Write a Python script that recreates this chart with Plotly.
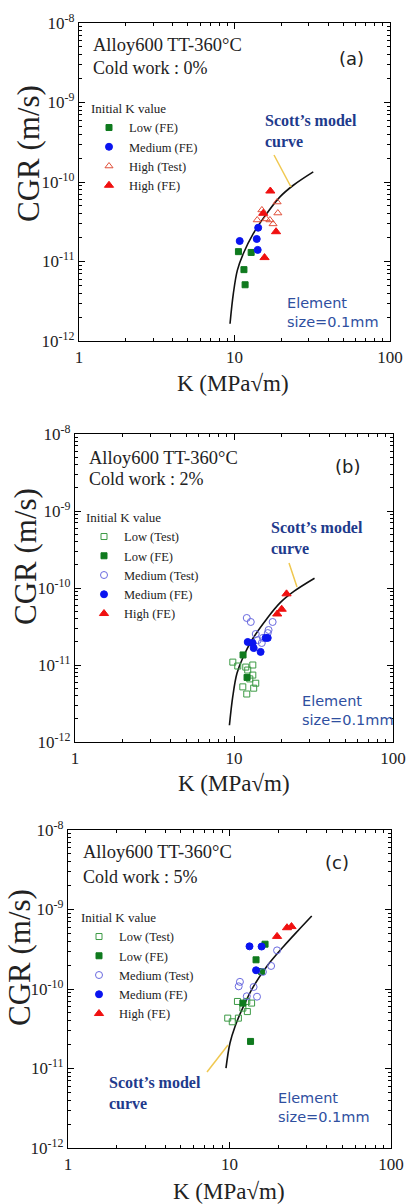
import plotly.graph_objects as go

W, H = 410, 1204

# ---------------- data (K in MPa*sqrt(m), CGR in m/s) ----------------
# Panel (a) cold work 0%
a_low_fe_k = [10.6, 12.8, 11.5, 11.7]
a_low_fe_cgr = [1.33e-11, 1.30e-11, 7.9e-12, 5.1e-12]
a_med_fe_k = [10.8, 14.2, 13.9, 14.1]
a_med_fe_cgr = [1.81e-11, 2.66e-11, 1.92e-11, 1.40e-11]
a_high_test_k = [15.0, 14.0, 18.8, 19.0, 16.9, 17.7, 16.0]
a_high_test_cgr = [4.45e-11, 3.33e-11, 5.6e-11, 4.07e-11, 3.33e-11, 2.97e-11, 3.43e-11]
a_high_fe_k = [17.0, 15.3, 18.5, 15.6]
a_high_fe_cgr = [7.7e-11, 4.04e-11, 2.37e-11, 1.12e-11]

# Panel (b) cold work 2%
b_low_test_k = [9.83, 10.56, 11.86, 13.13, 13.13, 12.2, 11.36, 12.03, 13.3, 13.7, 12.57]
b_low_test_cgr = [1.09e-11, 9.7e-12, 9.4e-12, 1.0e-11, 7.4e-12, 8.6e-12, 5.2e-12, 4.2e-12, 5.0e-12, 5.8e-12, 6.6e-12]
b_low_fe_k = [11.4, 12.08]
b_low_fe_cgr = [1.35e-11, 6.9e-12]
b_med_test_k = [12.03, 12.75, 13.7, 14.95, 16.3, 17.5, 15.2, 16.5, 14.1]
b_med_test_cgr = [4.08e-11, 3.62e-11, 2.53e-11, 1.93e-11, 2.6e-11, 3.62e-11, 2.25e-11, 2.85e-11, 2.1e-11]
b_med_fe_k = [12.2, 13.1, 13.3, 14.7, 16.3, 15.8]
b_med_fe_cgr = [1.99e-11, 1.93e-11, 1.66e-11, 1.48e-11, 2.25e-11, 2.25e-11]
b_high_fe_k = [21.4, 19.95, 18.7]
b_high_fe_cgr = [8.4e-11, 5.3e-11, 4.6e-11]

# Panel (c) cold work 5%
c_low_test_k = [11.2, 12.8, 13.7, 12.1, 12.9, 9.75, 11.35, 10.4]
c_low_test_cgr = [6.97e-11, 6.97e-11, 6.65e-11, 5.75e-11, 5.2e-11, 4.3e-11, 4.3e-11, 3.87e-11]
c_low_fe_k = [16.6, 14.6, 15.8, 12.1, 13.5]
c_low_fe_cgr = [3.66e-10, 2.33e-10, 1.66e-10, 6.65e-11, 2.19e-11]
c_med_test_k = [19.7, 18.1, 16.1, 11.6, 11.4, 14.1, 12.8, 14.8]
c_med_test_cgr = [3.06e-10, 1.95e-10, 1.64e-10, 1.23e-10, 1.08e-10, 1.06e-10, 8.1e-11, 8.0e-11]
c_med_fe_k = [13.3, 15.8, 14.6]
c_med_fe_cgr = [3.44e-10, 3.42e-10, 1.72e-10]
c_high_fe_k = [19.7, 22.7, 24.2]
c_high_fe_cgr = [4.59e-10, 5.9e-10, 6.1e-10]

# Scott's model curves
scott_ab_k = [9.36, 9.83, 10.43, 11.4, 13.2, 16.1, 19.6, 23.9, 32.1]
scott_ab_cgr = [1.65e-12, 3.94e-12, 7.74e-12, 1.26e-11, 2.24e-11, 4.0e-11, 6.5e-11, 9.1e-11, 1.34e-10]
scott_c_k = [9.51, 10.07, 10.82, 12.18, 14.05, 17.0, 21.6, 27.4, 32.3]
scott_c_cgr = [1.01e-11, 2.09e-11, 3.38e-11, 6.0e-11, 1.07e-10, 1.92e-10, 3.42e-10, 5.8e-10, 8.3e-10]

x_tickvals = [1, 10, 100]
x_ticktext = ["1", "10", "100"]
y_tickvals = [1e-12, 1e-11, 1e-10, 1e-9, 1e-8]
y_ticktext = ["10<sup>-12</sup>", "10<sup>-11</sup>", "10<sup>-10</sup>", "10<sup>-9</sup>", "10<sup>-8</sup>"]
panel_labels = ["(a)", "(b)", "(c)"]
cold_work = ["Cold work : 0%", "Cold work : 2%", "Cold work : 5%"]

# ---------------- styling ----------------
SERIF = "Liberation Serif"
SANS = "DejaVu Sans"
GREEN = "#0f7a1e"
GREEN_O = "#3c9a45"
BLUE = "#0a14f0"
BLUE_O = "#6a6ae0"
RED = "#f01010"
RED_O = "#e0503a"

def px(x):
    return x / W

def py(y):
    return 1 - y / H

# plot boxes in window pixels: (left, right, top, bottom)
boxes = [(79, 390, 23, 341), (75, 393, 434, 742), (68, 391, 830, 1148)]

fig = go.Figure()

def add(k, c, name, ax, leg, symbol, color, size, opn=False, show=True):
    fig.add_trace(go.Scatter(
        x=k, y=c, mode="markers", name=name,
        xaxis="x" + ax, yaxis="y" + ax, legend=leg, showlegend=show,
        marker=dict(symbol=symbol + ("-open" if opn else ""), color=color, size=size,
                    line=dict(width=1, color=color)),
    ))

def curve(k, c, ax):
    fig.add_trace(go.Scatter(x=k, y=c, mode="lines", xaxis="x" + ax, yaxis="y" + ax,
                             line=dict(color="#111", width=1.6, shape="spline"), showlegend=False))

# panel a
curve(scott_ab_k, scott_ab_cgr, "")
add(a_low_fe_k, a_low_fe_cgr, "Low (FE)", "", "legend", "square", GREEN, 6)
add(a_med_fe_k, a_med_fe_cgr, "Medium (FE)", "", "legend", "circle", BLUE, 7)
add(a_high_test_k, a_high_test_cgr, "High (Test)", "", "legend", "triangle-up", RED_O, 7, True)
add(a_high_fe_k, a_high_fe_cgr, "High (FE)", "", "legend", "triangle-up", RED, 8)
# panel b
curve(scott_ab_k, scott_ab_cgr, "2")
add(b_low_test_k, b_low_test_cgr, "Low (Test)", "2", "legend2", "square", GREEN_O, 6, True)
add(b_low_fe_k, b_low_fe_cgr, "Low (FE)", "2", "legend2", "square", GREEN, 6)
add(b_med_test_k, b_med_test_cgr, "Medium (Test)", "2", "legend2", "circle", BLUE_O, 7, True)
add(b_med_fe_k, b_med_fe_cgr, "Medium (FE)", "2", "legend2", "circle", BLUE, 7)
add(b_high_fe_k, b_high_fe_cgr, "High (FE)", "2", "legend2", "triangle-up", RED, 8)
# panel c
curve(scott_c_k, scott_c_cgr, "3")
add(c_low_test_k, c_low_test_cgr, "Low (Test)", "3", "legend3", "square", GREEN_O, 6, True)
add(c_low_fe_k, c_low_fe_cgr, "Low (FE)", "3", "legend3", "square", GREEN, 6)
add(c_med_test_k, c_med_test_cgr, "Medium (Test)", "3", "legend3", "circle", BLUE_O, 7, True)
add(c_med_fe_k, c_med_fe_cgr, "Medium (FE)", "3", "legend3", "circle", BLUE, 7)
add(c_high_fe_k, c_high_fe_cgr, "High (FE)", "3", "legend3", "triangle-up", RED, 8)

x_minor = [m * d for d in (1, 10) for m in range(2, 10)]
y_minor = [m * 10.0 ** e for e in range(-12, -8) for m in range(2, 10)]

layout = dict(width=W, height=H, margin=dict(l=0, r=0, t=0, b=0, autoexpand=False),
              paper_bgcolor="white", plot_bgcolor="white", showlegend=True)

annotations = []
shapes = []

legend_pos = [(89, 96, 12.5), (84, 505, 12.5), (79, 905, 12.5)]
scott_pos = [(263, 131), (269, 538), (107, 1093)]
leader = [((274, 155), (291, 187)), ((289, 563), (297, 587)), ((207, 1072), (228, 1045))]
element_pos = [(285, 313), (300, 710), (276, 1107)]
alloy_pos = [(91, 45, 68), (87, 458, 479), (81, 852, 877)]
label_pos = [(351, 58), (347, 467), (337, 862)]
ytitle_pos = [(28, 154), (25, 557), (19, 958)]
xtitle_pos = [(233, 383), (234, 783), (229, 1191)]

for i, (l, r, t, b) in enumerate(boxes):
    sfx = "" if i == 0 else str(i + 1)
    common = dict(type="log", showline=True, linecolor="black", linewidth=1.3, mirror="ticks",
                  ticks="inside", ticklen=6, tickwidth=1, tickcolor="black", showgrid=False,
                  zeroline=False, tickmode="array", automargin=False,
                  tickfont=dict(family=SERIF, size=17, color="#222"))
    layout["xaxis" + sfx] = dict(common, domain=[px(l), px(r)], range=[0, 2], anchor="y" + sfx,
                                 tickvals=x_tickvals, ticktext=x_ticktext,
                                 minor=dict(ticks="inside", ticklen=3, tickcolor="black", tickvals=x_minor))
    layout["yaxis" + sfx] = dict(common, domain=[py(b), py(t)], range=[-12, -8], anchor="x" + sfx,
                                 tickvals=y_tickvals, ticktext=y_ticktext,
                                 minor=dict(ticks="inside", ticklen=3, tickcolor="black", tickvals=y_minor))
    lx, ly, fs = legend_pos[i]
    layout["legend" if i == 0 else "legend" + str(i + 1)] = dict(
        x=px(lx), y=py(ly), xanchor="left", yanchor="top", bgcolor="rgba(0,0,0,0)",
        title=dict(text="Initial K value", font=dict(family=SERIF, size=13, color="#222")),
        font=dict(family=SERIF, size=fs, color="#222"), tracegroupgap=0, itemwidth=30)

    ax_, y1, y2 = alloy_pos[i]
    annotations.append(dict(x=px(ax_), y=py(y1), xref="paper", yref="paper", xanchor="left", yanchor="middle",
                            text="Alloy600 TT-360°C", showarrow=False, font=dict(family=SERIF, size=18.5, color="#222")))
    annotations.append(dict(x=px(ax_), y=py(y2), xref="paper", yref="paper", xanchor="left", yanchor="middle",
                            text=cold_work[i], showarrow=False, font=dict(family=SERIF, size=18, color="#222")))
    lbx, lby = label_pos[i]
    annotations.append(dict(x=px(lbx), y=py(lby), xref="paper", yref="paper", xanchor="center", yanchor="middle",
                            text=panel_labels[i], showarrow=False, font=dict(family=SANS, size=18, color="#222")))
    sx, sy = scott_pos[i]
    annotations.append(dict(x=px(sx), y=py(sy), xref="paper", yref="paper", xanchor="left",
                            yanchor="middle", align="left",
                            text="<b>Scott’s model</b><br><b>curve</b>", showarrow=False,
                            font=dict(family=SERIF, size=16, color="#1e3a8c")))
    ex, ey = element_pos[i]
    annotations.append(dict(x=px(ex), y=py(ey), xref="paper", yref="paper", xanchor="left", yanchor="middle",
                            align="left", text="Element<br>size=0.1mm", showarrow=False,
                            font=dict(family=SANS, size=14.5, color="#2f4f9f")))
    (x0, y0), (x1, y1_) = leader[i]
    shapes.append(dict(type="line", xref="paper", yref="paper", x0=px(x0), y0=py(y0), x1=px(x1), y1=py(y1_),
                       line=dict(color="#f0c850", width=1.5)))
    tx, ty = ytitle_pos[i]
    annotations.append(dict(x=px(tx), y=py(ty), xref="paper", yref="paper", xanchor="center", yanchor="middle",
                            text="CGR (m/s)", textangle=-90, showarrow=False,
                            font=dict(family=SERIF, size=31, color="#222")))
    xx, xy = xtitle_pos[i]
    annotations.append(dict(x=px(xx), y=py(xy), xref="paper", yref="paper", xanchor="center", yanchor="middle",
                            text="K (MPa√m)", showarrow=False,
                            font=dict(family=SERIF, size=23, color="#222")))

layout["annotations"] = annotations
layout["shapes"] = shapes
fig.update_layout(**layout)
# the figure fills the whole window: drop the page's default 8px body margin; no toolbar
fig.write_html("out.html", config={"displayModeBar": False},
               post_script="document.body.style.margin='0px';")
